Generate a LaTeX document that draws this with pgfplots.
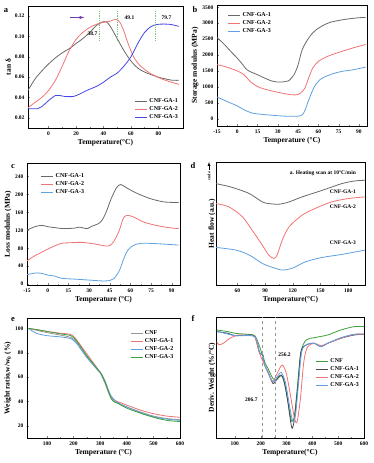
\documentclass[border=0pt]{standalone}
\usepackage{pgfplots}
\pgfplotsset{compat=1.18}
\usepackage{fontspec}
\setmainfont{Liberation Serif}
\definecolor{agray}{RGB}{105,105,105}
\definecolor{ared}{RGB}{240,115,115}
\definecolor{ablue}{RGB}{70,70,230}
\definecolor{lblue}{RGB}{95,160,225}
\definecolor{lgray}{RGB}{150,150,150}
\definecolor{egreen}{RGB}{60,160,60}
\definecolor{dgray}{RGB}{70,70,85}
\definecolor{apurple}{RGB}{110,60,170}
\definecolor{lgreen}{RGB}{120,200,120}
\pgfplotsset{myax/.style={scale only axis, anchor=south west, tick align=inside,
  xtick pos=bottom, ytick pos=left, minor x tick num=1, minor y tick num=1,
  major tick length=2pt, minor tick length=1.2pt,
  axis line style={line width=0.5pt},
  tick label style={font=\fontsize{5.5}{6}\selectfont\bfseries},
  label style={font=\fontsize{7.5}{8}\selectfont\bfseries},
  xlabel style={yshift=3pt}, ylabel style={yshift=-3pt},
  legend style={draw=none, fill=none, font=\fontsize{6}{6.5}\selectfont\bfseries, row sep=-1.5pt},
  legend cell align=left,
  legend image code/.code={\draw[##1] (0pt,0pt) -- (12pt,0pt);},
  /pgf/number format/assume math mode=true,
  /pgf/number format/set thousands separator={},
  every axis plot/.append style={line width=0.8pt, smooth, no marks}}}
\begin{document}
\begin{tikzpicture}
\useasboundingbox (0pt,0pt) rectangle (374pt,463pt);
% ---------------- a
\begin{axis}[myax, at={(28pt,335pt)}, width=155pt, height=122pt,
  xmin=-15, xmax=98, ymin=0.01, ymax=0.13,
  xtick={0,20,40,60,80}, ytick={0.02,0.04,0.06,0.08,0.10,0.12},
  yticklabel style={/pgf/number format/fixed, /pgf/number format/precision=2, /pgf/number format/fixed zerofill},
  xlabel={Temperature(°C)}, ylabel={tan δ},
  legend style={at={(1,0.03)}, anchor=south east}]
\addplot[agray] coordinates {(-15,0.047)(-10,0.058)(-5,0.066)(0,0.073)(5,0.079)(10,0.084)(15,0.088)(20,0.093)(25,0.098)(30,0.104)(35,0.111)(38.7,0.114)(42,0.1145)(45,0.110)(50,0.098)(55,0.086)(60,0.076)(65,0.069)(70,0.065)(80,0.060)(90,0.057)(95,0.057)};
\addplot[ared] coordinates {(-15,0.030)(-10,0.035)(-5,0.040)(0,0.047)(5,0.057)(10,0.071)(15,0.086)(20,0.097)(25,0.104)(30,0.109)(35,0.112)(40,0.114)(45,0.115)(49,0.117)(52,0.114)(55,0.105)(58,0.093)(62,0.080)(67,0.071)(75,0.063)(85,0.057)(95,0.053)};
\addplot[ablue] coordinates {(-15,0.029)(-8,0.029)(-5,0.031)(0,0.037)(5,0.042)(8,0.042)(12,0.041)(18,0.041)(22,0.043)(28,0.047)(35,0.051)(40,0.055)(45,0.060)(50,0.064)(55,0.071)(60,0.080)(65,0.093)(70,0.104)(75,0.110)(80,0.112)(88,0.112)(95,0.110)};
\legend{CNF-GA-1,CNF-GA-2,CNF-GA-3}
\addplot[lgreen, densely dotted, line width=0.8pt, sharp plot] coordinates {(37,0.096)(37,0.126)};
\addplot[lgreen, densely dotted, line width=0.8pt, sharp plot] coordinates {(50,0.096)(50,0.126)};
\addplot[lgreen, densely dotted, line width=0.8pt, sharp plot] coordinates {(78,0.096)(78,0.126)};
\draw[apurple, -latex, line width=0.6pt] (axis cs:15.6,0.1187) -- (axis cs:26,0.1187);
\node[font=\fontsize{5.5}{6}\selectfont\bfseries] at (axis cs:32,0.1028) {38.7};
\node[font=\fontsize{5.5}{6}\selectfont\bfseries] at (axis cs:59,0.1187) {49.1};
\node[font=\fontsize{5.5}{6}\selectfont\bfseries] at (axis cs:86,0.1187) {79.7};
\end{axis}
\node[font=\fontsize{8.5}{9}\selectfont\bfseries] at (6pt,452pt) {a};
% ---------------- b
\begin{axis}[myax, at={(217pt,337pt)}, width=150pt, height=121pt,
  xmin=-15, xmax=96, ymin=-230, ymax=3570,
  xtick={-15,0,15,30,45,60,75,90}, ytick={0,500,1000,1500,2000,2500,3000,3500},
  xlabel={Temperature (°C)}, ylabel={Storage modulus (MPa)},
  legend style={at={(0.05,0.97)}, anchor=north west}]
\addplot[agray] coordinates {(-15,2550)(-10,2350)(-5,2120)(0,1900)(4,1700)(7,1540)(11,1450)(15,1380)(20,1280)(25,1190)(30,1150)(35,1160)(38,1190)(42,1380)(45,1690)(48,2160)(52,2480)(56,2700)(60,2840)(65,2960)(70,3040)(80,3120)(90,3170)(95,3180)};
\addplot[ared] coordinates {(-15,1700)(-8,1620)(0,1500)(5,1380)(10,1150)(15,1010)(20,930)(30,830)(40,750)(45,760)(48,850)(50,950)(53,1300)(56,1600)(60,1800)(65,1920)(70,2010)(80,2150)(88,2250)(95,2330)};
\addplot[lblue] coordinates {(-15,680)(-7,530)(0,400)(5,280)(10,190)(15,150)(25,110)(35,80)(45,80)(48,120)(50,250)(53,600)(57,1000)(62,1250)(70,1400)(78,1490)(85,1530)(95,1620)};
\legend{CNF-GA-1,CNF-GA-2,CNF-GA-3}
\end{axis}
\node[font=\fontsize{8.5}{9}\selectfont\bfseries] at (195pt,453pt) {b};
% ---------------- c
\begin{axis}[myax, at={(27pt,178pt)}, width=153pt, height=122pt,
  xmin=-15, xmax=96, ymin=-2, ymax=270,
  xtick={-15,0,15,30,45,60,75,90}, ytick={0,40,80,120,160,200,240},
  xlabel={Temperature (°C)}, ylabel={Loss modulus (MPa)},
  legend style={at={(0.07,0.95)}, anchor=north west}]
\addplot[agray] coordinates {(-15,120)(-11,126)(-7,130)(-4,131)(0,128)(5,126)(10,124)(15,124)(20,125)(23,127)(26,125)(29,124)(32,129)(37,135)(40,145)(43,165)(46,190)(50,215)(53,222)(57,215)(65,202)(75,190)(85,183)(95,182)};
\addplot[ared] coordinates {(-15,52)(-10,62)(-5,70)(0,78)(5,85)(10,91)(15,92)(25,93)(35,89)(42,85)(45,86)(48,95)(52,120)(55,148)(58,153)(62,150)(70,138)(80,130)(90,125)(95,124)};
\addplot[lblue] coordinates {(-15,21)(-8,25)(-3,23)(0,20)(5,18)(10,13)(20,11)(30,9)(40,7)(45,8)(48,12)(52,30)(55,55)(58,75)(62,86)(68,91)(80,90)(90,88)(95,87)};
\legend{CNF-GA-1,CNF-GA-2,CNF-GA-3}
\end{axis}
\node[font=\fontsize{8.5}{9}\selectfont\bfseries] at (13pt,296pt) {c};
% ---------------- d
\begin{axis}[myax, at={(216pt,178pt)}, width=149pt, height=123pt,
  xmin=37, xmax=198, ymin=0, ymax=370,
  xtick={60,90,120,150,180}, ytick=\empty, minor y tick num=0,
  xlabel={Temperature(°C)}, ylabel={Heat flow (a.u.)}]
\addplot[agray] coordinates {(37,305)(50,297)(58.5,290)(73,275)(87,250)(94,245)(105,243)(116,250)(130,265)(152,285)(173,305)(187,313)(198,315)};
\addplot[ared] coordinates {(37,245)(51,235)(65.6,205)(76,165)(87,120)(94,90)(99.6,80)(103,90)(108.6,135)(116,175)(130,210)(144,230)(162,250)(180,260)(198,265)};
\addplot[lblue] coordinates {(37,113)(58.5,105)(73,90)(87,65)(98,53)(108.6,45)(119,50)(134,70)(152,83)(173,92)(198,105)};
\node[font=\fontsize{5.5}{6}\selectfont\bfseries, anchor=east] at (axis cs:192,337) {a. Heating scan at 10°C/min};
\node[font=\fontsize{5.5}{6}\selectfont\bfseries, anchor=east] at (axis cs:192,280) {CNF-GA-1};
\node[font=\fontsize{5.5}{6}\selectfont\bfseries, anchor=east] at (axis cs:192,235) {CNF-GA-2};
\node[font=\fontsize{5.5}{6}\selectfont\bfseries, anchor=east] at (axis cs:192,127) {CNF-GA-3};
\end{axis}
\node[font=\fontsize{8.5}{9}\selectfont\bfseries] at (193pt,297pt) {d};
\node[font=\fontsize{4}{4}\selectfont\bfseries, rotate=90] at (209pt,287pt) {endo};
\draw[-latex, line width=0.4pt] (209pt,293pt) -- (209pt,301pt);
% ---------------- e
\begin{axis}[myax, at={(27pt,25pt)}, width=153pt, height=120pt,
  xmin=25, xmax=600, ymin=10, ymax=108.5,
  xtick={100,200,300,400,500,600}, ytick={20,40,60,80,100},
  xlabel={Temperature (°C)}, ylabel={Weight ratio,w/w\textsubscript{0} (\%)},
  legend style={at={(0.99,0.93)}, anchor=north east}]
\addplot[lgray] coordinates {(30,100)(60,98.5)(100,96.5)(150,94.5)(190,92.5)(210,89)(230,83)(250,76.5)(270,71)(290,66)(300,63.5)(310,59)(320,54)(330,48)(340,43)(350,40.5)(370,38.5)(400,35.5)(450,31.5)(500,28)(550,26)(600,25)};
\addplot[ared] coordinates {(30,100)(60,99)(100,97.5)(150,96)(190,95)(210,91)(230,85)(250,79)(270,73)(290,67)(300,64)(310,60)(320,55)(330,49)(340,44)(350,41.5)(370,39.5)(400,37)(450,33)(500,30)(550,28)(600,27)};
\addplot[lblue] coordinates {(30,100)(60,96)(100,94)(150,93)(190,91.5)(210,88)(230,82)(250,76)(270,71)(290,66)(300,64)(310,60.5)(320,56)(330,50)(340,45)(350,42)(370,38.5)(400,35.5)(450,31)(500,27.5)(550,25.5)(600,24.5)};
\addplot[egreen] coordinates {(30,100)(60,99)(100,97.5)(150,95.5)(190,94)(210,90)(230,84)(250,77.5)(270,72)(290,66.5)(300,64)(310,60)(320,55)(330,49)(340,43)(350,40)(370,38)(400,34.5)(450,30.5)(500,27)(550,24.5)(600,23.5)};
\legend{CNF,CNF-GA-1,CNF-GA-2,CNF-GA-3}
\end{axis}
\node[font=\fontsize{8.5}{9}\selectfont\bfseries] at (13pt,143pt) {e};
% ---------------- f
\begin{axis}[myax, at={(216pt,25pt)}, width=148pt, height=121pt,
  xmin=27, xmax=600, ymin=1, ymax=364,
  xtick={100,200,300,400,500,600}, ytick=\empty, minor y tick num=0,
  xlabel={Temperature(°C)}, ylabel={Deriv. Weight (\%/°C)},
  legend style={at={(1,0.69)}, anchor=north east}]
\addplot[egreen] coordinates {(30,325)(74,320)(100,315)(151,312)(177,308)(196,275)(215,230)(228,210)(247,180)(260,175)(273,185)(286,185)(299,140)(312,80)(321,50)(331,70)(344,170)(356,260)(376,295)(408,302)(459,310)(510,325)(562,335)(600,335)};
\addplot[dgray] coordinates {(30,320)(74,315)(100,308)(151,310)(177,305)(196,255)(209,250)(215,220)(228,200)(247,165)(260,175)(279,190)(292,165)(305,110)(315,55)(322,30)(331,60)(344,160)(356,260)(376,280)(408,285)(433,275)(459,285)(510,300)(562,310)(600,312)};
\addplot[ared] coordinates {(30,290)(38,281)(55,285)(81,300)(113,310)(151,308)(177,305)(196,255)(215,220)(235,185)(247,170)(264,195)(283,220)(299,195)(315,130)(331,60)(341,50)(354,120)(367,230)(382,275)(408,285)(433,278)(459,285)(510,300)(562,312)(600,312)};
\addplot[lblue] coordinates {(30,322)(100,308)(177,305)(196,258)(209,250)(215,222)(228,200)(247,170)(260,180)(279,198)(295,170)(308,115)(318,70)(326,50)(335,70)(346,160)(359,260)(379,282)(408,285)(433,275)(459,285)(510,302)(562,312)(600,313)};
\legend{CNF,CNF-GA-1,CNF-GA-2,CNF-GA-3}
\addplot[lgray, dashed, line width=0.6pt, sharp plot] coordinates {(206.7,1)(206.7,364)};
\addplot[lgray, dashed, line width=0.6pt, sharp plot] coordinates {(256.2,1)(256.2,364)};
\node[font=\fontsize{5.5}{6}\selectfont\bfseries] at (axis cs:164,115) {206.7};
\node[font=\fontsize{5.5}{6}\selectfont\bfseries] at (axis cs:292,250) {256.2};
\end{axis}
\node[font=\fontsize{8.5}{9}\selectfont\bfseries] at (193pt,144pt) {f};
\end{tikzpicture}
\end{document}
